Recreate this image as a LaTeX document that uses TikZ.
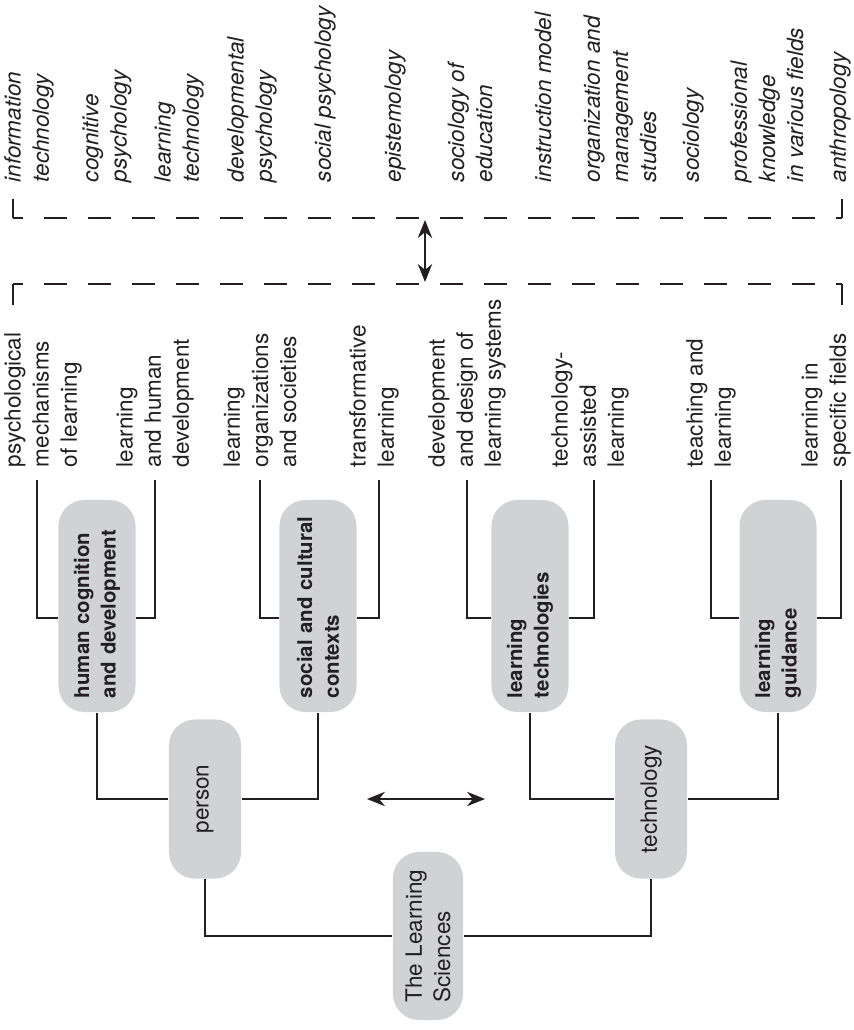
\documentclass[tikz,border=0pt]{standalone}
\usepackage{fontspec}
\setmainfont{TeX Gyre Heros}
\usetikzlibrary{arrows.meta}
\definecolor{boxgray}{RGB}{209,210,212}
\definecolor{inkgray}{RGB}{35,31,32}

\begin{document}
\begin{tikzpicture}[x=0.025cm, y=-0.025cm, line width=1.2pt, color=inkgray,
  box/.style={rotate=90, fill=boxgray, rounded corners=0.65cm, align=left},
  topic/.style={box, text width=4.6cm, inner xsep=0.35cm, minimum height=1.925cm, font=\fontsize{14.5}{19}\selectfont\bfseries},
  branch/.style={box, minimum width=3.975cm, minimum height=1.8cm, font=\fontsize{16}{20}\selectfont},
  leaf/.style={rotate=90, anchor=west, align=left, inner xsep=0.3cm, inner ysep=0pt, font=\fontsize{16}{20}\selectfont},
  field/.style={rotate=90, anchor=west, align=left, inner sep=0pt, font=\fontsize{16}{20}\selectfont\itshape},
  dashline/.style={dash pattern=on 16.4pt off 14.9pt, dash phase=9.3pt, line width=1.5pt},
  twoway/.style={{Stealth[length=0.45cm,width=0.36cm]}-{Stealth[length=0.45cm,width=0.36cm]}}]

\useasboundingbox (0,0) rectangle (853,1030);

% related fields
\node [field] (f1)  at (29,183) {information\\technology};
\node [field] (f2)  at (107,183) {cognitive\\psychology};
\node [field] (f3)  at (179,183) {learning\\technology};
\node [field] (f4)  at (252,183) {developmental\\psychology};
\node [field] (f5)  at (325,183) {social psychology};
\node [field] (f6)  at (395,183) {epistemology};
\node [field] (f7)  at (470,183) {sociology of\\education};
\node [field] (f8)  at (543,183) {instruction model};
\node [field] (f9)  at (620,183) {organization and\\management\\studies};
\node [field] (f10) at (693,183) {sociology};
\node [field] (f11) at (767,183) {professional\\knowledge\\in various fields};
\node [field] (f12) at (840,183) {anthropology};

% dashed brackets
\coordinate (a1) at (13,199);
\coordinate (a2) at (13,218);
\coordinate (a3) at (842,218);
\coordinate (a4) at (842,199);
\coordinate (b1) at (13,305);
\coordinate (b2) at (13,284);
\coordinate (b3) at (842,284);
\coordinate (b4) at (842,305);

\draw (a1) -- (a2);
\draw [dashline] (a2) -- (a3);
\draw (a3) -- (a4);
\draw (b1) -- (b2);
\draw [dashline] (b2) -- (b3);
\draw (b3) -- (b4);

\coordinate (v1) at (425,220);
\coordinate (v2) at (425,282);
\draw [twoway] (v1) -- (v2);

% research topics
\node [leaf] (l1) at (43,480) {psychological\\mechanisms\\of learning};
\node [leaf] (l2) at (155,480) {learning\\and human\\development};
\node [leaf] (l3) at (260,480) {learning\\organizations\\and societies};
\node [leaf] (l4) at (374,480) {transformative\\learning};
\node [leaf] (l5) at (467,480) {development\\and design of\\learning systems};
\node [leaf] (l6) at (590,480) {technology-\\assisted\\learning};
\node [leaf] (l7) at (711,480) {teaching and\\learning};
\node [leaf] (l8) at (826,480) {learning in\\specific fields};

\node [topic] (hcd) at (97,606) {human cognition\\and development};
\node [topic] (scc) at (318,606) {social and cultural\\contexts};
\node [topic] (ltech) at (530,606) {learning\\technologies};
\node [topic] (lguide) at (778,606) {learning\\guidance};

\node [branch] (person) at (205,799) {person};
\node [branch] (tech) at (651,799) {technology};

\node [branch, minimum width=4.2cm, minimum height=1.75cm] (root) at (428,936) {The Learning\\Sciences};

\coordinate (h1) at (367,799);
\coordinate (h2) at (485,799);
\draw [twoway] (h1) -- (h2);

\draw (root) -| (person);
\draw (root) -| (tech);
\draw (person) -| (hcd);
\draw (person) -| (scc);
\draw (tech) -| (ltech);
\draw (tech) -| (lguide);

\draw ([yshift=-0.3cm]hcd.north) -| ([xshift=-0.15cm]l1.west);
\draw ([yshift=-0.3cm]hcd.south) -| (l2.west);
\draw ([yshift=-0.3cm]scc.north) -| (l3.west);
\draw ([yshift=-0.3cm]scc.south) -| ([xshift=0.12cm]l4.west);
\draw ([yshift=-0.3cm]ltech.north) -| (l5.west);
\draw ([yshift=-0.3cm]ltech.south) -| ([xshift=0.1cm]l6.west);
\draw ([yshift=-0.3cm]lguide.north) -| (l7.west);
\draw ([yshift=-0.3cm]lguide.south) -| ([xshift=0.37cm]l8.west);

\end{tikzpicture}
\end{document}
